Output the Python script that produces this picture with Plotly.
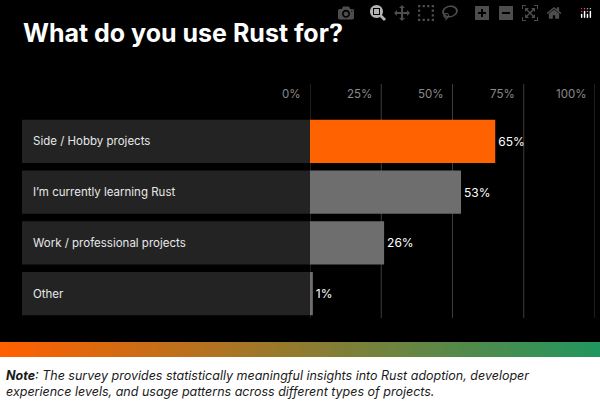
import plotly.graph_objects as go

categories = ["Side / Hobby projects", "I’m currently learning Rust", "Work / professional projects", "Other"]
values = [65, 53, 26, 1]
tick_vals = [0, 25, 50, 75, 100]
tick_labels = ["0%", "25%", "50%", "75%", "100%"]
bar_colors = ["#ff6200", "#6e6e6e", "#6e6e6e", "#6e6e6e"]

W, H = 600, 411
T, B = 116, 92
PH = H - T - B
def py(p):
    return (H - B - p) / PH
def px(p):
    return p / W

pos = list(range(len(categories)))
fig = go.Figure(go.Bar(
    y=pos, x=values, orientation="h", width=0.85,
    marker=dict(color=bar_colors, line=dict(width=0)),
    text=[f"{v}%" for v in values], textposition="outside",
    textfont=dict(color="white", size=12, family="Inter"),
    outsidetextfont=dict(color="white", size=12, family="Inter"), cliponaxis=False,
    hoverinfo="skip"))

shapes = []
for i, c in enumerate(categories):
    shapes.append(dict(type="rect", xref="paper", yref="y", x0=px(22), x1=px(310),
                       y0=i - 0.425, y1=i + 0.425, fillcolor="#232323", line_width=0, layer="below"))
for v in tick_vals:
    shapes.append(dict(type="line", xref="x", yref="paper", x0=v, x1=v, y0=py(318), y1=py(84),
                       line=dict(color="#3c3c3c", width=1), layer="below"))
n = 80
c0, c1 = (255, 96, 0), (34, 150, 95)
for k in range(n):
    t = k / (n - 1)
    col = "rgb(%d,%d,%d)" % tuple(round(a + (b - a) * t) for a, b in zip(c0, c1))
    shapes.append(dict(type="rect", xref="paper", yref="paper", x0=k / n, x1=(k + 1) / n + 0.002,
                       y0=py(357), y1=py(342), fillcolor=col, line_width=0, layer="above"))
shapes.append(dict(type="rect", xref="paper", yref="paper", x0=0, x1=1, y0=py(H + 2), y1=py(357),
                   fillcolor="white", line_width=0, layer="above"))

ann = []
for i, c in enumerate(categories):
    ann.append(dict(text=c, xref="paper", yref="y", x=px(31), y=i, xanchor="left", yanchor="middle",
                    showarrow=False, font=dict(color="#e8e8e8", size=11.5, family="Inter")))
for v, l in zip(tick_vals, tick_labels):
    ann.append(dict(text=l, xref="x", yref="paper", x=v, xshift=-7, y=py(94), xanchor="right",
                    yanchor="middle", showarrow=False, font=dict(color="#8a8a8a", size=11.5, family="Inter")))
ann.append(dict(text="<b>What do you use Rust for?</b>", xref="paper", yref="paper", x=px(21), y=py(33),
                xanchor="left", yanchor="middle", showarrow=False,
                font=dict(color="white", size=25, family="Inter")))
ann.append(dict(text="<b><i>Note</i></b><i>: The survey provides statistically meaningful insights into Rust adoption, developer<br>experience levels, and usage patterns across different types of projects.</i>",
                xref="paper", yref="paper", x=px(4), y=py(383), xanchor="left", yanchor="middle",
                align="left", showarrow=False, font=dict(color="#1a1a1a", size=12.5, family="Inter")))

fig.update_layout(
    width=W, height=H, margin=dict(l=0, r=0, t=T, b=B),
    paper_bgcolor="black", plot_bgcolor="black", showlegend=False,
    xaxis=dict(domain=[px(310), px(595)], range=[0, 100], showgrid=False, zeroline=False,
               showticklabels=False, fixedrange=True),
    yaxis=dict(range=[3.5, -0.5], showgrid=False, zeroline=False, showticklabels=False),
    shapes=shapes, annotations=ann)
fig.write_html("out.html", post_script="document.body.style.margin='0';document.body.style.overflow='hidden';")
